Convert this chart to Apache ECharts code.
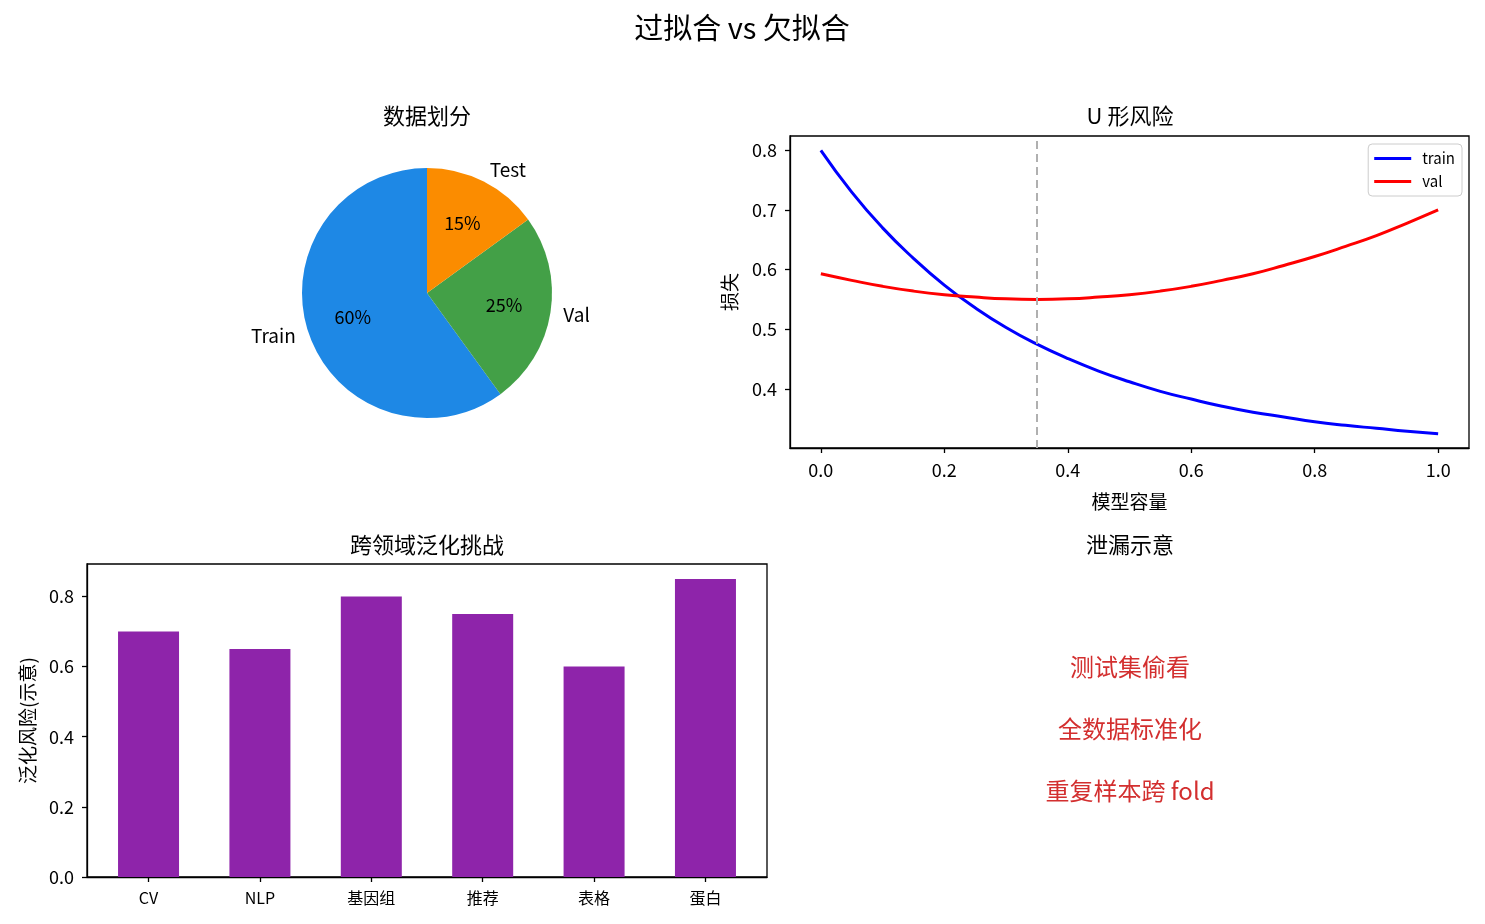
<!DOCTYPE html>
<html>
<head>
<meta charset="utf-8">
<script src="https://cdn.jsdelivr.net/npm/echarts@6/dist/echarts.min.js"></script>
<style>
html,body{margin:0;padding:0;background:#fff;}
#chart{width:1485px;height:924px;}
</style>
</head>
<body>
<div id="chart"></div>
<script>
// ---- Data ----
const splitNames = ['Train', 'Val', 'Test'];
const splitValues = [60, 25, 15];
const splitColors = ['#1E88E5', '#43A047', '#FB8C00'];

const capacity = [0, 0.05, 0.1, 0.15, 0.2, 0.25, 0.3, 0.35, 0.4, 0.45, 0.5, 0.55, 0.6, 0.65, 0.7, 0.75, 0.8, 0.85, 0.9, 0.95, 1.0];
const trainLoss = [0.800, 0.730, 0.670, 0.619, 0.574, 0.536, 0.503, 0.475, 0.451, 0.430, 0.412, 0.396, 0.383, 0.371, 0.361, 0.353, 0.345, 0.339, 0.334, 0.329, 0.325];
const valLoss = [0.593, 0.582, 0.572, 0.564, 0.558, 0.554, 0.551, 0.550, 0.551, 0.554, 0.558, 0.564, 0.572, 0.582, 0.593, 0.607, 0.622, 0.639, 0.657, 0.678, 0.700];
const bestCapacity = 0.35;
const lineXTicks = [0, 0.2, 0.4, 0.6, 0.8, 1.0];
const lineYTicks = [0.4, 0.5, 0.6, 0.7, 0.8];

const domains = ['CV', 'NLP', '基因组', '推荐', '表格', '蛋白'];
const domainRisk = [0.70, 0.65, 0.80, 0.75, 0.60, 0.85];
const barYTicks = [0, 0.2, 0.4, 0.6, 0.8];

const leakItems = ['测试集偷看', '全数据标准化', '重复样本跨 fold'];

// ---- Chart ----
const FONT = '"Noto Sans CJK SC", "Noto Sans", sans-serif';
const chart = echarts.init(document.getElementById('chart'), null, {renderer: 'canvas'});

const axisCommon = {
  axisLine: {show: true, onZero: false, lineStyle: {color: '#000', width: 1.3}},
  axisTick: {show: true, inside: false, length: 5, lineStyle: {color: '#000', width: 1.3}},
  splitLine: {show: false},
  axisLabel: {color: '#000', fontFamily: FONT, fontSize: 18},
  nameTextStyle: {color: '#000', fontFamily: FONT, fontSize: 19}
};

const titleStyle = {color: '#000', fontFamily: FONT, fontSize: 22, fontWeight: 'normal'};

const titles = [
  {text: '过拟合 vs 欠拟合', left: 742, top: 28, textAlign: 'center', textVerticalAlign: 'middle',
   textStyle: {color: '#000', fontFamily: FONT, fontSize: 29, fontWeight: 'normal'}},
  {text: '数据划分', left: 427, top: 116, textAlign: 'center', textVerticalAlign: 'middle', textStyle: titleStyle},
  {text: 'U 形风险', left: 1130, top: 116, textAlign: 'center', textVerticalAlign: 'middle', textStyle: titleStyle},
  {text: '跨领域泛化挑战', left: 427, top: 545, textAlign: 'center', textVerticalAlign: 'middle', textStyle: titleStyle},
  {text: '泄漏示意', left: 1130, top: 545, textAlign: 'center', textVerticalAlign: 'middle', textStyle: titleStyle}
];
const leakY = [667, 729, 791];
leakItems.forEach((t, i) => {
  titles.push({text: t, left: 1130, top: leakY[i], textAlign: 'center', textVerticalAlign: 'middle',
    textStyle: {color: '#D32F2F', fontFamily: FONT, fontSize: 24, fontWeight: 'normal'}});
});

const option = {
  backgroundColor: '#fff',
  animation: false,
  title: titles.map(t => Object.assign({padding: 0}, t)),
  legend: {
    data: ['train', 'val'],
    orient: 'vertical',
    right: 23, top: 144,
    padding: [7, 7, 7, 6],
    itemGap: 8,
    itemWidth: 37, itemHeight: 3,
    icon: 'rect',
    borderColor: '#ccc', borderWidth: 1, borderRadius: 4,
    backgroundColor: 'rgba(255,255,255,0.8)',
    textStyle: {color: '#000', fontFamily: FONT, fontSize: 15, padding: [0, 0, 0, 6]}
  },
  grid: [
    {left: 790, top: 136, width: 679, height: 312, show: true, borderColor: '#000', borderWidth: 1.3, backgroundColor: 'transparent'},
    {left: 87, top: 564, width: 680, height: 313, show: true, borderColor: '#000', borderWidth: 1.3, backgroundColor: 'transparent'}
  ],
  xAxis: [
    Object.assign({}, axisCommon, {
      type: 'value', gridIndex: 0, min: -0.05, max: 1.05,
      name: '模型容量', nameLocation: 'middle', nameGap: 44,
      axisTick: Object.assign({}, axisCommon.axisTick, {customValues: lineXTicks}),
      axisLabel: Object.assign({}, axisCommon.axisLabel, {customValues: lineXTicks, margin: 13, formatter: v => v.toFixed(1)})
    }),
    Object.assign({}, axisCommon, {
      type: 'value', gridIndex: 1, min: -0.5525, max: 5.5525,
      axisTick: Object.assign({}, axisCommon.axisTick, {customValues: domains.map((d, i) => i)}),
      axisLabel: Object.assign({}, axisCommon.axisLabel, {customValues: domains.map((d, i) => i), margin: 13, fontSize: 16,
        formatter: v => domains[Math.round(v)]})
    })
  ],
  yAxis: [
    Object.assign({}, axisCommon, {
      type: 'value', gridIndex: 0, min: 0.301, max: 0.824,
      name: '损失', nameLocation: 'middle', nameGap: 51, nameRotate: 90,
      axisTick: Object.assign({}, axisCommon.axisTick, {customValues: lineYTicks}),
      axisLabel: Object.assign({}, axisCommon.axisLabel, {customValues: lineYTicks, margin: 13, formatter: v => v.toFixed(1)})
    }),
    Object.assign({}, axisCommon, {
      type: 'value', gridIndex: 1, min: 0, max: 0.8925,
      name: '泛化风险(示意)', nameLocation: 'middle', nameGap: 50, nameRotate: 90,
      axisTick: Object.assign({}, axisCommon.axisTick, {customValues: barYTicks}),
      axisLabel: Object.assign({}, axisCommon.axisLabel, {customValues: barYTicks, margin: 13, formatter: v => v.toFixed(1)})
    })
  ],
  series: [
    {
      type: 'pie', name: 'split', center: [427, 293], radius: [0, 125],
      startAngle: 90, clockwise: false, avoidLabelOverlap: false, silent: true,
      data: splitNames.map((n, i) => ({name: n, value: splitValues[i], itemStyle: {color: splitColors[i]}})),
      itemStyle: {borderWidth: 0},
      label: {show: true, position: 'outside', color: '#000', fontFamily: FONT, fontSize: 19,
        formatter: '{b}', distanceToLabelLine: 0},
      labelLine: {show: false, length: 13, length2: 0},
      emphasis: {disabled: true}
    },
    {
      type: 'pie', name: 'pct', center: [427, 293], radius: [0, 150],
      startAngle: 90, clockwise: false, avoidLabelOverlap: false, silent: true,
      data: splitNames.map((n, i) => ({name: n, value: splitValues[i]})),
      itemStyle: {color: 'rgba(0,0,0,0)', borderWidth: 0},
      label: {show: true, position: 'inner', color: '#000', fontFamily: FONT, fontSize: 18,
        formatter: p => Math.round(p.percent) + '%'},
      labelLine: {show: false},
      emphasis: {disabled: true}
    },
    {
      type: 'line', name: 'train', xAxisIndex: 0, yAxisIndex: 0,
      data: capacity.map((x, i) => [x, trainLoss[i]]),
      showSymbol: false, smooth: true, color: '#0000FF',
      lineStyle: {color: '#0000FF', width: 3}
    },
    {
      type: 'line', name: 'val', xAxisIndex: 0, yAxisIndex: 0,
      data: capacity.map((x, i) => [x, valLoss[i]]),
      showSymbol: false, smooth: true, color: '#FF0000',
      lineStyle: {color: '#FF0000', width: 3},
      markLine: {
        silent: true, symbol: ['none', 'none'], label: {show: false},
        lineStyle: {color: '#B0B0B0', type: [8, 5], width: 2},
        data: [{xAxis: bestCapacity}]
      }
    },
    {
      type: 'bar', name: 'risk', xAxisIndex: 1, yAxisIndex: 1,
      data: domains.map((d, i) => [i, domainRisk[i]]),
      barWidth: 61, itemStyle: {color: '#8E24AA'}
    }
  ]
};
chart.setOption(option);
</script>
</body>
</html>
